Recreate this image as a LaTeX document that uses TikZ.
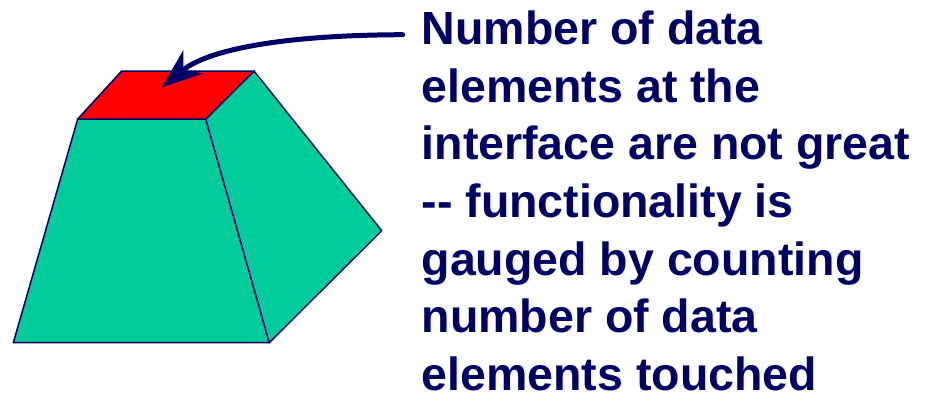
\documentclass[tikz,border=0pt]{standalone}
\usepackage{fontspec}
\setmainfont{Liberation Sans}
\usetikzlibrary{arrows.meta}

\definecolor{navy}{RGB}{0,0,102}
\definecolor{blockgreen}{RGB}{0,204,153}
\definecolor{topred}{RGB}{255,0,0}

\tikzset{
    face/.style={draw=navy, line width=1.5pt, line join=round},
    note/.style={text=navy, font=\fontsize{46.5}{57.7}\selectfont\bfseries, align=left, inner sep=0pt}
}

\begin{document}
\begin{tikzpicture}[x=1pt, y=-1pt]

    \useasboundingbox (0,0) rectangle (939,394);

    % corners of the block
    \coordinate (backleft) at (121.7,71);
    \coordinate (backright) at (254,71);
    \coordinate (frontleft) at (77.7,119);
    \coordinate (frontright) at (205.7,119);
    \coordinate (bottomleft) at (13.3,342.7);
    \coordinate (bottomright) at (269.3,342.7);
    \coordinate (sidetip) at (381.7,230.7);

    % front face
    \fill[blockgreen] (frontleft) -- (frontright) -- (bottomright) -- (bottomleft) -- cycle;
    \draw[face] (frontleft) -- (frontright) -- (bottomright) -- (bottomleft) -- cycle;

    % side face
    \fill[blockgreen] (frontright) -- (backright) -- (sidetip) -- (bottomright) -- cycle;
    \draw[face] (frontright) -- (backright) -- (sidetip) -- (bottomright) -- cycle;

    % top face (interface)
    \fill[topred] (backleft) -- (backright) -- (frontright) -- (frontleft) -- cycle;
    \draw[face] (backleft) -- (backright) -- (frontright) -- (frontleft) -- cycle;

    % text (base anchor sits on the last line)
    \node[note, anchor=base west] (remark) at (421.5,390.5) {Number of data\\elements at the\\interface are not great\\-{}- functionality is\\gauged by counting\\number of data\\elements touched};

    % arrow
    \coordinate (start) at (402.7,34.7);
    \coordinate (tip) at (161.7,87.3);
    \draw[navy, line width=5pt, line cap=round, -{Stealth[length=40pt, width=30pt, inset=12pt]}]
        (start) .. controls (290,35) and (210,48) .. (tip);

\end{tikzpicture}
\end{document}
